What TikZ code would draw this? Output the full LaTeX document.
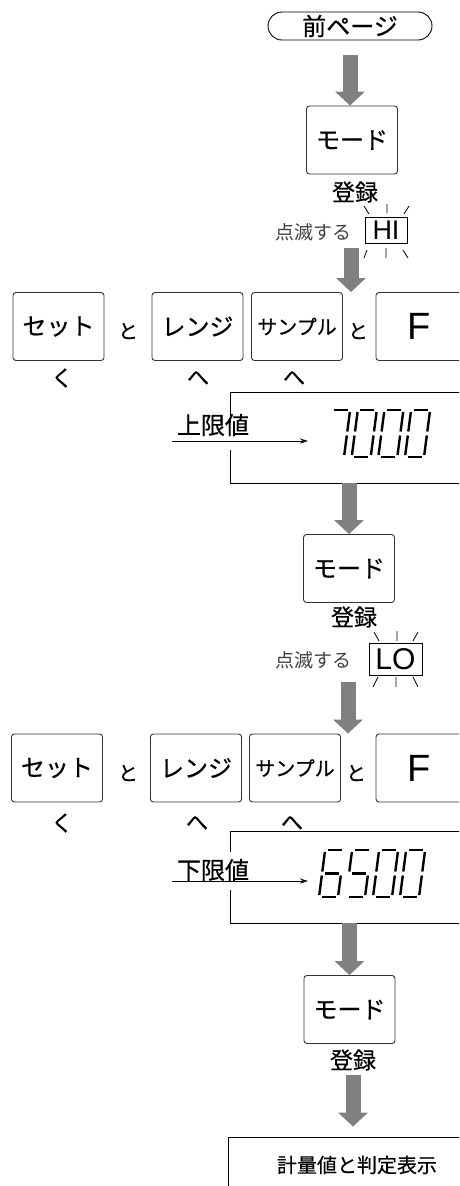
\documentclass[tikz,border=0pt]{standalone}
\usepackage{fontspec}
\setmainfont{Liberation Sans}
\newfontfamily\jp[FakeBold=0.5]{Noto Sans CJK JP}
\newfontfamily\jpthin{Noto Sans CJK JP}
\usetikzlibrary{arrows.meta}

% one slanted seven segment digit: #1 bottom left corner, #2 segments a..g as 1..7
\newcommand{\lcddigit}[2]{%
  \begin{scope}[shift={#1}, xslant=0.13]
    \foreach \s in {#2}{%
      \ifcase\s\relax
      \or \draw[lcdseg] (2.5,-47) -- (16.5,-47);
      \or \draw[lcdseg] (19,-45) -- (19,-25.5);
      \or \draw[lcdseg] (19,-21.5) -- (19,-2);
      \or \draw[lcdseg] (2.5,0) -- (16.5,0);
      \or \draw[lcdseg] (0,-21.5) -- (0,-2);
      \or \draw[lcdseg] (0,-45) -- (0,-25.5);
      \or \draw[lcdseg] (2.5,-23.5) -- (16.5,-23.5);
      \fi
    }
  \end{scope}}

\begin{document}
\begin{tikzpicture}[x=1pt, y=-1pt,
    keybox/.style={draw=black!80, line width=0.9pt, rounded corners=3pt, minimum width=91pt, minimum height=68pt, inner sep=0pt, font=\jp\fontsize{24}{26}\selectfont},
    pillbox/.style={draw, line width=0.9pt, rounded corners=14pt, minimum width=164pt, minimum height=28pt, inner sep=0pt, font=\jp\fontsize{24}{26}\selectfont},
    lampbox/.style={draw, line width=0.9pt, inner sep=0pt},
    jptext/.style={inner sep=0pt, font=\jp\fontsize{23}{25}\selectfont},
    blinktext/.style={inner sep=0pt, text=black!75, font=\jpthin\fontsize{19}{21}\selectfont},
    andtext/.style={inner sep=0pt, font=\jp\fontsize{20}{22}\selectfont},
    curtext/.style={inner sep=0pt, font=\jp\fontsize{22}{24}\selectfont},
    frame/.style={line width=0.9pt},
    rays/.style={line width=0.8pt},
    lcdseg/.style={line width=2.4pt},
    bigarrow/.style={draw=gray, line width=15pt, -{Triangle[width=29pt,length=14pt]}}]
    \useasboundingbox (0,0) rectangle (459,1186);
    \clip (0,0) rectangle (459,1186);

    % start
    \node[pillbox] (prev) at (350,26) {前ページ};
    \node[keybox] (mode1) at (352,140) {モード};
    \node[jptext] (reg1) at (355,192) {登録};
    \draw[bigarrow, shorten <=15pt] (prev.south) -- (prev.south |- mode1.north);

    % HI blinking
    \node[blinktext] (blink1) at (313,232) {点滅する};
    \node[lampbox, minimum width=42pt, minimum height=26pt, font=\fontsize{27}{27}\selectfont] (hi) at (386,230) {HI};
    \draw[rays] (364,206) -- (369,214) (387,204) -- (387,213) (409,206) -- (404,214);
    \draw[rays] (367,250) -- (364,258) (386,248) -- (386,258) (403,250) -- (408,258);

    % keys, first row
    \node[keybox] (set1) at (58.5,326.5) {セット};
    \node[andtext] (and1) at (128,331) {と};
    \node[keybox] (range1) at (197.5,326.5) {レンジ};
    \node[keybox, font=\jp\fontsize{20}{22}\selectfont] (sample1) at (297,326.5) {サンプル};
    \node[andtext] (and2) at (358,331) {と};
    \node[keybox, minimum width=87pt, font=\fontsize{38}{38}\selectfont] (f1) at (419.5,326.5) {F};
    \node[curtext] (cur1) at (62,378) {く};
    \node[curtext] (cur2) at (198,378) {へ};
    \node[curtext] (cur3) at (294,378) {へ};
    \coordinate (a2) at (351,248);
    \draw[bigarrow] (a2) -- (a2 |- sample1.north);

    % upper limit display
    \draw[frame] (475,392) -| (230,423);
    \draw[frame] (230,450) |- (475,483);
    \node[jptext, font=\jp\fontsize{24}{26}\selectfont] (upper) at (213,425) {上限値};
    \coordinate (up1) at (172,441);
    \coordinate (up2) at (308,441);
    \draw[line width=0.9pt, -{Stealth[length=8pt,width=5pt]}] (up1) -- (up2);
    \lcddigit{(325,457)}{1,2,3}
    \lcddigit{(351.7,457)}{1,2,3,4,5,6}
    \lcddigit{(378.3,457)}{1,2,3,4,5,6}
    \lcddigit{(405,457)}{1,2,3,4,5,6}

    \node[keybox] (mode2) at (349,568.5) {モード};
    \node[jptext] (reg2) at (354,617) {登録};
    \coordinate (disp1) at (349,483);
    \draw[bigarrow] (disp1) -- (mode2.north);

    % LO blinking
    \node[blinktext] (blink2) at (313,660) {点滅する};
    \node[lampbox, minimum width=53pt, minimum height=32pt, font=\fontsize{30}{30}\selectfont] (lo) at (395.5,659) {LO};
    \draw[rays] (374,632) -- (379,641) (397,631) -- (397,641) (418,632) -- (413,641);
    \draw[rays] (378,677) -- (373,687) (396,677) -- (396,687) (413,677) -- (418,687);

    % keys, second row
    \node[keybox] (set2) at (57,768) {セット};
    \node[andtext] (and3) at (128,773) {と};
    \node[keybox] (range2) at (196,768) {レンジ};
    \node[keybox, font=\jp\fontsize{20}{22}\selectfont] (sample2) at (295,768) {サンプル};
    \node[andtext] (and4) at (356,773) {と};
    \node[keybox, minimum width=87pt, font=\fontsize{38}{38}\selectfont] (f2) at (419.5,768) {F};
    \node[curtext] (cur4) at (62,823) {く};
    \node[curtext] (cur5) at (197,823) {へ};
    \node[curtext] (cur6) at (292,823) {へ};
    \coordinate (a4) at (348,682);
    \draw[bigarrow] (a4) -- (a4 |- sample2.north);

    % lower limit display
    \draw[frame] (475,831) -| (230,852);
    \draw[frame] (230,890) |- (475,923);
    \node[jptext, font=\jp\fontsize{24}{26}\selectfont] (lower) at (213,870) {下限値};
    \coordinate (lo1) at (172,881);
    \coordinate (lo2) at (308,881);
    \draw[line width=0.9pt, -{Stealth[length=8pt,width=5pt]}] (lo1) -- (lo2);
    \lcddigit{(319,897)}{1,3,4,5,6,7}
    \lcddigit{(346,897)}{1,3,4,6,7}
    \lcddigit{(373,897)}{1,2,3,4,5,6}
    \lcddigit{(400,897)}{1,2,3,4,5,6}

    \node[keybox] (mode3) at (349.5,1009.5) {モード};
    \node[jptext] (reg3) at (353,1060) {登録};
    \coordinate (disp2) at (349.5,923);
    \draw[bigarrow] (disp2) -- (mode3.north);

    % result
    \node[draw, line width=0.9pt, minimum width=258pt, minimum height=56pt, inner sep=0pt, font=\jp\fontsize{20}{22}\selectfont] (final) at (357,1165) {計量値と判定表示};
    \draw[bigarrow, shorten <=4pt, shorten >=10pt] (reg3.south) -- (reg3.south |- final.north);
\end{tikzpicture}
\end{document}
